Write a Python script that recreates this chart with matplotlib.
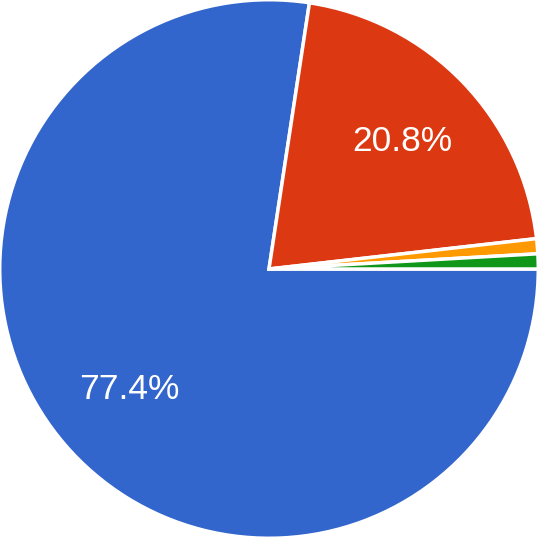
import matplotlib.pyplot as plt

labels = ['A', 'B', 'C', 'D']
values = [77.4, 20.8, 0.9, 0.9]
colors = ['#3366cc', '#dc3912', '#ff9900', '#109618']


def pct(p):
    # small slices get no label, like the original
    return '%.1f%%' % p if p >= 5 else ''


fig = plt.figure(figsize=(5.38, 5.38), dpi=100)
ax = fig.add_axes([0, 0, 1, 1])
wedges, texts, autotexts = ax.pie(
    values, colors=colors, startangle=0, counterclock=False,
    autopct=pct, pctdistance=0.685, radius=1.0,
    wedgeprops=dict(edgecolor='white', linewidth=2.5),
    textprops=dict(color='white', fontsize=25.5, family='Liberation Sans'))
ax.set_xlim(-0.999, 0.999)
ax.set_ylim(-0.999, 0.999)
ax.set_aspect('equal')
ax.axis('off')

fig.savefig('out.png', dpi=100)
